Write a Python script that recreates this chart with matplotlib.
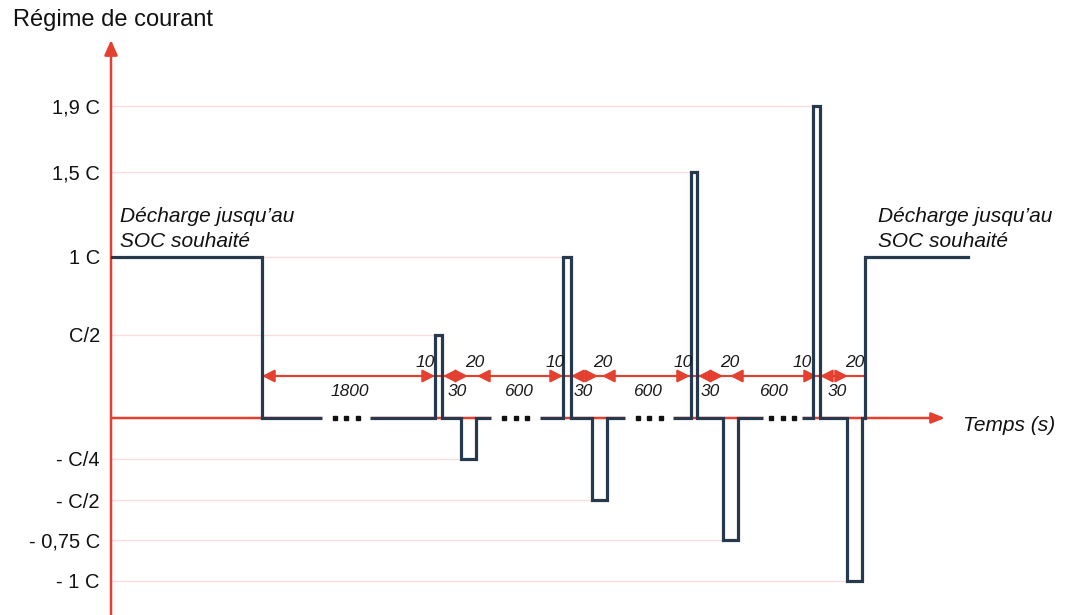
import numpy as np
import matplotlib
matplotlib.use('Agg')
import matplotlib.pyplot as plt

plt.rcParams['font.family'] = ['Liberation Sans', 'DejaVu Sans']

# niveaux de courant (en C) et leurs étiquettes
tick_levels = [1.9, 1.5, 1, 0.5, -0.25, -0.5, -0.75, -1]
tick_labels = ['1,9 C', '1,5 C', '1 C', 'C/2', '- C/4', '- C/2', '- 0,75 C', '- 1 C']

# profil schématique : début de chaque palier (abscisse du schéma) et courant du palier
step_x = [0, 151, 324, 331, 350, 365, 452, 460, 481, 496, 580, 586, 612, 627, 702, 709, 736, 751, 754]
step_end = 857
step_level = [1, 0, 0.5, 0, -0.25, 0, 1, 0, -0.5, 0, 1.5, 0, -0.75, 0, 1.9, 0, -1, 0, 1]

# coupures "..." dans les repos
break_start = [211, 380, 514, 652]
break_end = [259, 429, 562, 691]

# cotes (durées en s)
dim_start = [151, 332, 366, 460, 491, 587, 619, 709]
dim_end = [324, 357, 452, 487, 579, 612, 706, 737]
dim_label = ['1800', '30', '600', '30', '600', '30', '600', '30']
dim_label_x = [239, 346, 407, 472, 536, 599, 662, 726]
pulse_label_x = [314, 444, 572, 691]   # impulsions de 10 s
rest_label_x = [364, 492, 619, 744]    # repos de 20 s

red = '#e5402f'
navy = '#26394d'
grid_col = '#fadcda'

# axe vertical non linéaire (schéma)
lv_knots = [-1.25, -1, -0.75, -0.5, -0.25, 0, 0.5, 1, 1.5, 1.9, 2.6]
h_knots = [-204, -163, -122, -82, -41, 0, 83, 161, 246, 312, 428]

def fwd(v):
    return np.interp(v, lv_knots, h_knots)

def inv(h):
    return np.interp(h, h_knots, lv_knots)

fig = plt.figure(figsize=(10.65, 6.15), dpi=100)
ax = fig.add_axes([111 / 1065, 0, 954 / 1065, 1])
ax.set_yscale('function', functions=(fwd, inv))
ax.set_xlim(0, 954)
ax.set_ylim(inv(-197), inv(418))
for s in ax.spines.values():
    s.set_visible(False)
ax.set_xticks([])
ax.set_yticks(tick_levels, tick_labels)
ax.minorticks_off()
ax.tick_params(axis='y', length=0, pad=8, labelsize=14.5, labelcolor='#111111')

# lignes de repère jusqu'à la première impulsion de chaque niveau
for lv in tick_levels:
    idx = [i for i in range(1, len(step_level)) if step_level[i] == lv][0]
    ax.plot([0, step_x[idx]], [lv, lv], color=grid_col, lw=0.9, zorder=1)

# axes fléchés
ax.annotate('', xy=(0, 1 - 40 / 615), xytext=(0, 0), xycoords=('data', 'axes fraction'),
            arrowprops=dict(arrowstyle='-|>,head_length=0.5,head_width=0.22', mutation_scale=18,
                            color=red, lw=1.8, shrinkA=0, shrinkB=0), zorder=2)
ax.annotate('', xy=(834, 0), xytext=(0, 0),
            arrowprops=dict(arrowstyle='-|>,head_length=0.45,head_width=0.18', mutation_scale=18,
                            color=red, lw=1.8, shrinkA=0, shrinkB=0), zorder=2)

# profil de courant
ax.plot(step_x + [step_end], step_level + [step_level[-1]], drawstyle='steps-post',
        color=navy, lw=2.3, solid_joinstyle='miter', zorder=3)

# coupures avec points de suspension
for a, b in zip(break_start, break_end):
    ax.plot([a, b], [0, 0], color='white', lw=5, solid_capstyle='butt', zorder=4)
    c = (a + b) / 2
    ax.plot([c - 11.5, c, c + 11.5], [0, 0, 0], 's', color='#111111', ms=2.2, zorder=5)

# cotes
y_dim = inv(42)
ax.plot([dim_start[0], step_x[-2] + 1], [y_dim, y_dim], color=red, lw=1.5, zorder=2)
for a, b, lab, lx in zip(dim_start, dim_end, dim_label, dim_label_x):
    ax.annotate('', xy=(b, y_dim), xytext=(a, y_dim),
                arrowprops=dict(arrowstyle='<|-|>,head_length=0.75,head_width=0.38', mutation_scale=10,
                                color=red, lw=1.5, shrinkA=0, shrinkB=0), zorder=2)
    ax.annotate(lab, (lx, y_dim), xytext=(0, -11.5), textcoords='offset points',
                ha='center', va='center', fontsize=12.5, style='italic', color='#1a1a1a')
for lx in pulse_label_x:
    ax.annotate('10', (lx, y_dim), xytext=(0, 9.5), textcoords='offset points',
                ha='center', va='center', fontsize=12.5, style='italic', color='#1a1a1a')
for lx in rest_label_x:
    ax.annotate('20', (lx, y_dim), xytext=(0, 9.5), textcoords='offset points',
                ha='center', va='center', fontsize=12.5, style='italic', color='#1a1a1a')

# textes
for tx in [9, 767]:
    ax.text(tx, inv(418 - 222), 'Décharge jusqu\u2019au', fontsize=15, style='italic',
            va='baseline', ha='left', color='#111111')
    ax.text(tx, inv(418 - 247), 'SOC souhaité', fontsize=15, style='italic',
            va='baseline', ha='left', color='#111111')
ax.text(852, inv(-13), 'Temps (s)', fontsize=15, style='italic', va='baseline', ha='left',
        color='#111111')
fig.text(13 / 1065, 1 - 20 / 615, 'Régime de courant', fontsize=17, va='center', ha='left',
         color='#111111')

fig.savefig('out.png', dpi=100, facecolor='white')
